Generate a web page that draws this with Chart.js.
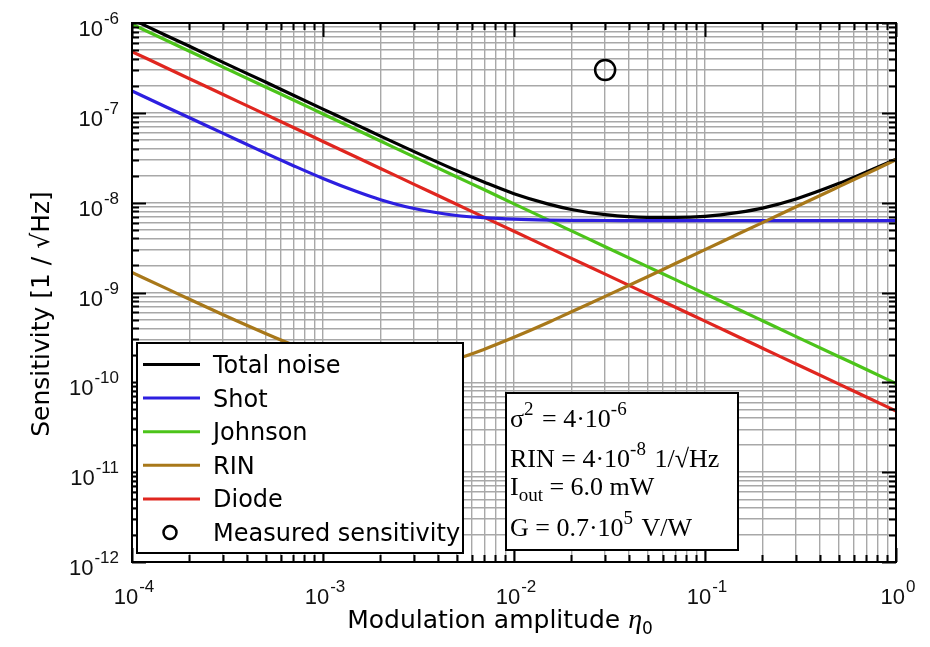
<!DOCTYPE html>
<html>
<head>
<meta charset="utf-8">
<script src="https://cdn.jsdelivr.net/npm/chart.js@4.4.1/dist/chart.umd.min.js"></script>
<style>
  html, body { margin: 0; padding: 0; background: #fff; }
</style>
</head>
<body>
<canvas id="chart" width="930" height="647"></canvas>
<script>
// modulation amplitude (x) and the noise curves
const eta = [1e-4, 1.5e-4, 2e-4, 3e-4, 5e-4, 7e-4, 1e-3, 1.5e-3, 2e-3, 3e-3, 5e-3, 7e-3,
  1e-2, 1.5e-2, 2e-2, 3e-2, 5e-2, 7e-2, 0.1, 0.15, 0.2, 0.3, 0.5, 0.7, 1];
const totalNoise = [1.1e-6, 7.3e-7, 5.5e-7, 3.65e-7, 2.2e-7, 1.57e-7, 1.1e-7, 7.35e-8, 5.5e-8, 3.7e-8,
  2.28e-8, 1.69e-8, 1.26e-8, 9.7e-9, 8.4e-9, 7.35e-9, 6.85e-9, 6.85e-9, 7.05e-9, 7.8e-9, 8.7e-9,
  1.1e-8, 1.63e-8, 2.2e-8, 3.05e-8];
const shotNoise = [1.75e-7, 1.17e-7, 8.8e-8, 5.9e-8, 3.56e-8, 2.58e-8, 1.86e-8, 1.33e-8, 1.08e-8, 8.6e-9,
  7.2e-9, 6.8e-9, 6.55e-9, 6.4e-9, 6.35e-9, 6.33e-9, 6.3e-9, 6.3e-9, 6.3e-9, 6.3e-9, 6.3e-9,
  6.3e-9, 6.3e-9, 6.3e-9, 6.3e-9];
const johnsonNoise = [9.7e-7, 6.47e-7, 4.85e-7, 3.23e-7, 1.94e-7, 1.39e-7, 9.7e-8, 6.47e-8, 4.85e-8, 3.23e-8,
  1.94e-8, 1.39e-8, 9.7e-9, 6.47e-9, 4.85e-9, 3.23e-9, 1.94e-9, 1.39e-9, 9.7e-10, 6.47e-10, 4.85e-10,
  3.23e-10, 1.94e-10, 1.39e-10, 9.7e-11];
const rinNoise = [1.67e-9, 1.12e-9, 8.4e-10, 5.65e-10, 3.5e-10, 2.6e-10, 1.97e-10, 1.56e-10, 1.44e-10, 1.46e-10,
  1.83e-10, 2.34e-10, 3.17e-10, 4.6e-10, 6.1e-10, 9.05e-10, 1.5e-9, 2.1e-9, 3e-9, 4.5e-9, 6e-9,
  9e-9, 1.5e-8, 2.1e-8, 3e-8];
const diodeNoise = [4.8e-7, 3.2e-7, 2.4e-7, 1.6e-7, 9.6e-8, 6.86e-8, 4.8e-8, 3.2e-8, 2.4e-8, 1.6e-8,
  9.6e-9, 6.86e-9, 4.8e-9, 3.2e-9, 2.4e-9, 1.6e-9, 9.6e-10, 6.86e-10, 4.8e-10, 3.2e-10, 2.4e-10,
  1.6e-10, 9.6e-11, 6.86e-11, 4.8e-11];
const measuredEta = [0.03];
const measuredSens = [3e-7];

const seriesLabels = ['Total noise', 'Shot', 'Johnson', 'RIN', 'Diode', 'Measured sensitivity'];
const seriesColors = ['#000000', '#2d1fe0', '#4cc41a', '#a8781a', '#e0261f', '#000000'];

// tick labels are powers of ten
const xExponents = [-4, -3, -2, -1, 0];
const yExponents = [-12, -11, -10, -9, -8, -7, -6];

const paramLines = [
  [['σ', 0], ['2', 1], [' = 4·10', 0], ['-6', 1]],
  [['RIN = 4·10', 0], ['-8', 1], [' 1/√Hz', 0]],
  [['I', 0], ['out', -1], [' = 6.0 mW', 0]],
  [['G = 0.7·10', 0], ['5', 1], [' V/W', 0]]
];

const SANS = '"DejaVu Sans", sans-serif';
const TICKF = '"Liberation Sans", Arial, sans-serif';
const SERIF = '"Liberation Serif", "Times New Roman", serif';

function pts(ys) {
  return ys.map((y, i) => ({ x: eta[i], y: y }));
}

// log grid: 1..9 in every decade
function logTicks(lo, hi) {
  return scale => {
    const t = [];
    for (let e = lo; e <= hi; e++) {
      for (let m = 1; m <= 9; m++) {
        if (e === hi && m > 1) break;
        t.push({ value: m * Math.pow(10, e), major: m === 1 });
      }
    }
    scale.ticks = t;
  };
}

// "10" with raised exponent
function powWidth(ctx, exp, size, expSize) {
  ctx.font = size + 'px ' + TICKF;
  let w = ctx.measureText('10').width;
  ctx.font = expSize + 'px ' + TICKF;
  return w + ctx.measureText(String(exp)).width + 1;
}
function drawPow(ctx, x, y, exp, size, expSize, rise) {
  ctx.font = size + 'px ' + TICKF;
  ctx.fillText('10', x, y);
  const w = ctx.measureText('10').width;
  ctx.font = expSize + 'px ' + TICKF;
  ctx.fillText(String(exp), x + w + 1, y - rise);
}

const framePlugin = {
  id: 'frame',
  afterDatasetsDraw(chart) {
    const ctx = chart.ctx;
    const a = chart.chartArea;
    const xs = chart.scales.x, ys = chart.scales.y;
    ctx.save();
    ctx.fillStyle = '#000';
    ctx.strokeStyle = '#000';
    ctx.textBaseline = 'alphabetic';
    ctx.textAlign = 'left';

    // inner tick marks on all four sides
    ctx.lineWidth = 2;
    ctx.beginPath();
    xs.ticks.forEach(t => {
      const px = Math.round(xs.getPixelForValue(t.value)) + 0.5;
      const len = t.major ? 14 : 7;
      ctx.moveTo(px, a.bottom); ctx.lineTo(px, a.bottom - len);
      ctx.moveTo(px, a.top); ctx.lineTo(px, a.top + len);
    });
    ys.ticks.forEach(t => {
      const py = Math.round(ys.getPixelForValue(t.value)) + 0.5;
      const len = t.major ? 14 : 7;
      ctx.moveTo(a.left, py); ctx.lineTo(a.left + len, py);
      ctx.moveTo(a.right, py); ctx.lineTo(a.right - len, py);
    });
    ctx.stroke();

    // legend box
    const lg = { l: 137, t: 343, r: 463, b: 553 };
    ctx.fillStyle = '#fff';
    ctx.fillRect(lg.l, lg.t, lg.r - lg.l, lg.b - lg.t);
    ctx.lineWidth = 2;
    ctx.strokeRect(lg.l, lg.t, lg.r - lg.l, lg.b - lg.t);
    ctx.font = '24px ' + SANS;
    seriesLabels.forEach((lab, i) => {
      const base = 373 + i * 33.6;
      const cy = base - 8.5;
      ctx.strokeStyle = seriesColors[i];
      if (i < 5) {
        ctx.lineWidth = 3;
        ctx.beginPath();
        ctx.moveTo(143, cy); ctx.lineTo(200, cy);
        ctx.stroke();
      } else {
        ctx.lineWidth = 2.5;
        ctx.beginPath();
        ctx.arc(170, cy, 6.5, 0, Math.PI * 2);
        ctx.stroke();
      }
      ctx.fillStyle = '#000';
      ctx.fillText(lab, 213, base);
    });

    // parameter box
    const pb = { l: 506, t: 393, r: 738, b: 550 };
    ctx.fillStyle = '#fff';
    ctx.fillRect(pb.l, pb.t, pb.r - pb.l, pb.b - pb.t);
    ctx.strokeStyle = '#000';
    ctx.lineWidth = 2;
    ctx.strokeRect(pb.l, pb.t, pb.r - pb.l, pb.b - pb.t);
    ctx.fillStyle = '#000';
    const baselines = [427, 467, 495, 536];
    paramLines.forEach((parts, i) => {
      let x = 510;
      parts.forEach(([txt, kind]) => {
        const size = kind === 0 ? 26 : 19;
        const dy = kind === 1 ? -12 : (kind === -1 ? 6 : 0);
        ctx.font = size + 'px ' + SERIF;
        ctx.fillText(txt, x, baselines[i] + dy);
        x += ctx.measureText(txt).width + (kind === 1 ? 2 : 0);
      });
    });

    // plot frame
    ctx.strokeStyle = '#000';
    ctx.lineWidth = 2;
    ctx.strokeRect(a.left, a.top, a.right - a.left, a.bottom - a.top);

    // tick labels
    ctx.fillStyle = '#111';
    xExponents.forEach(e => {
      const px = xs.getPixelForValue(Math.pow(10, e));
      const w = powWidth(ctx, e, 22, 17);
      drawPow(ctx, px - w / 2 + 2, 604, e, 22, 17, 12);
    });
    yExponents.forEach(e => {
      const py = ys.getPixelForValue(Math.pow(10, e));
      const w = powWidth(ctx, e, 22, 17);
      drawPow(ctx, 119 - w, py + 13, e, 22, 17, 12);
    });

    // axis titles
    ctx.fillStyle = '#000';
    const t1 = 'Modulation amplitude ';
    ctx.font = '25px ' + SANS;
    const w1 = ctx.measureText(t1).width;
    ctx.font = 'italic 28px ' + SERIF;
    const w2 = ctx.measureText('η').width;
    ctx.font = '17px ' + SANS;
    const w3 = ctx.measureText('0').width;
    let tx = 500 - (w1 + w2 + w3) / 2;
    ctx.font = '25px ' + SANS;
    ctx.fillText(t1, tx, 628);
    tx += w1;
    ctx.font = 'italic 28px ' + SERIF;
    ctx.fillText('η', tx, 628);
    tx += w2;
    ctx.font = '17px ' + SANS;
    ctx.fillText('0', tx, 634);

    ctx.save();
    ctx.translate(49, 314);
    ctx.rotate(-Math.PI / 2);
    ctx.font = '25px ' + SANS;
    ctx.textAlign = 'center';
    ctx.fillText('Sensitivity [1 / √Hz]', 0, 0);
    ctx.restore();

    ctx.restore();
  }
};

const ds = [totalNoise, shotNoise, johnsonNoise, rinNoise, diodeNoise];
const drawOrder = [1, 2, 3, 0, 4];
const datasets = ds.map((vals, i) => ({
  label: seriesLabels[i],
  data: pts(vals),
  borderColor: seriesColors[i],
  borderWidth: 3.2,
  pointRadius: 0,
  fill: false,
  cubicInterpolationMode: 'monotone',
  order: drawOrder[i]
}));
datasets.push({
  label: seriesLabels[5],
  data: measuredEta.map((x, i) => ({ x: x, y: measuredSens[i] })),
  showLine: false,
  pointRadius: 10,
  pointBorderWidth: 2.5,
  pointBorderColor: '#000',
  pointBackgroundColor: 'rgba(0,0,0,0)',
  order: 0
});

new Chart(document.getElementById('chart').getContext('2d'), {
  type: 'line',
  data: { datasets: datasets },
  options: {
    responsive: false,
    animation: false,
    layout: { padding: { left: 132, top: 23, right: 34, bottom: 85 } },
    plugins: { legend: { display: false }, tooltip: { enabled: false } },
    scales: {
      x: {
        type: 'logarithmic', min: 1e-4, max: 1,
        afterBuildTicks: logTicks(-4, 0),
        grid: { color: '#a8a8a8', lineWidth: 1.4, drawTicks: false },
        border: { display: false },
        ticks: { display: false, autoSkip: false }
      },
      y: {
        type: 'logarithmic', min: 1e-12, max: 1e-6,
        afterBuildTicks: logTicks(-12, -6),
        grid: { color: '#a8a8a8', lineWidth: 1.4, drawTicks: false },
        border: { display: false },
        ticks: { display: false, autoSkip: false }
      }
    }
  },
  plugins: [framePlugin]
});
</script>
</body>
</html>
